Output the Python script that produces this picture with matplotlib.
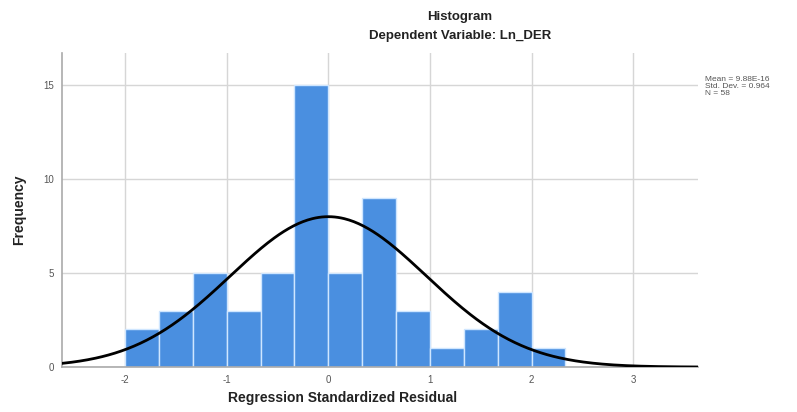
import numpy as np
import matplotlib.pyplot as plt

plt.rcParams["font.family"] = ["Liberation Sans", "DejaVu Sans"]
plt.rcParams["axes.unicode_minus"] = False

# binned standardized residuals (bin width 1/3, starting at -2)
bin_edges = [-2.0, -5/3, -4/3, -1.0, -2/3, -1/3, 0.0, 1/3, 2/3, 1.0, 4/3, 5/3, 2.0, 7/3]
counts = [2, 3, 5, 3, 5, 15, 5, 9, 3, 1, 2, 4, 1]
mean = 9.88e-16
std_dev = 0.964
n_obs = 58
x_ticks = [-2, -1, 0, 1, 2, 3]
y_ticks = [0, 5, 10, 15]

fig = plt.figure(figsize=(7.97, 4.12), dpi=100)
ax = fig.add_axes([0.078, 0.109, 0.798, 0.762])

lefts = bin_edges[:-1]
widths = np.diff(bin_edges)
ax.bar(lefts, counts, width=widths, align="edge", color="#4a8fe0",
       edgecolor="#cfe6ff", linewidth=1.0, zorder=2)

# normal curve scaled to counts
xs = np.linspace(-2.62, 3.64, 400)
bw = widths[0]
ys = n_obs * bw * np.exp(-0.5 * ((xs - mean) / std_dev) ** 2) / (std_dev * np.sqrt(2 * np.pi))
ax.plot(xs, ys, color="black", linewidth=2, zorder=3)

ax.set_xlim(-2.62, 3.64)
ax.set_ylim(0, 16.7)
ax.set_xticks(x_ticks)
ax.set_yticks(y_ticks)
ax.tick_params(labelsize=7, colors="#555555", length=0, pad=6)
ax.grid(True, color="#d6d6d6", linewidth=1, zorder=0)
ax.set_axisbelow(True)
for side in ["top", "right"]:
    ax.spines[side].set_visible(False)
for side in ["left", "bottom"]:
    ax.spines[side].set_color("#aaaaaa")
    ax.spines[side].set_linewidth(1.2)

ax.set_ylabel("Frequency", fontsize=10, fontweight="bold", color="#222222", labelpad=12)
fig.text(0.43, 0.034, "Regression Standardized Residual", ha="center", va="center",
         fontsize=10, fontweight="bold", color="#222222")

fig.text(0.577, 0.958, "Histogram", ha="center", va="center",
         fontsize=9.5, fontweight="bold", color="#222222")
fig.text(0.577, 0.912, "Dependent Variable: Ln_DER", ha="center", va="center",
         fontsize=9.5, fontweight="bold", color="#222222")

fig.text(0.885, 0.79, "Mean = 9.88E-16\nStd. Dev. = 0.964\nN = 58", ha="left", va="center",
         fontsize=6, color="#555555", linespacing=0.95)

plt.savefig("out.png", dpi=100)
